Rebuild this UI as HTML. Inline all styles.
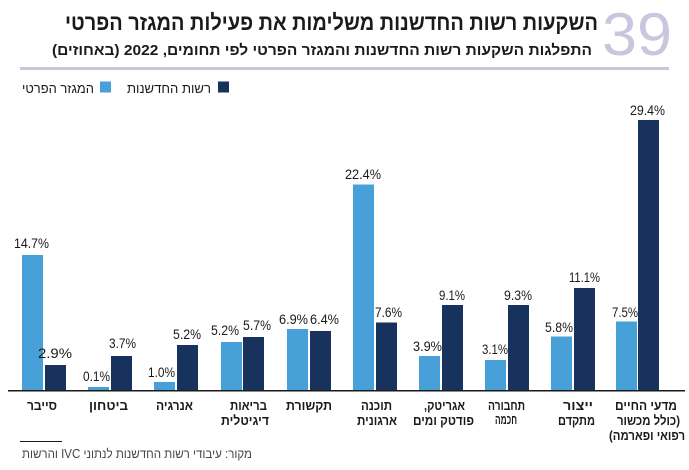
<!DOCTYPE html>
<html>
<head>
<meta charset="utf-8">
<style>
html,body{margin:0;padding:0;background:#fff;}
svg{display:block;}
.he{font-family:"Liberation Sans","DejaVu Sans",sans-serif;direction:rtl;unicode-bidi:embed;}
.v{font-family:"Liberation Sans","DejaVu Sans",sans-serif;font-size:14px;fill:#1a1a1a;}
.cat{font-size:13px;font-weight:bold;fill:#1a1a1a;}
</style>
</head>
<body>
<svg width="689" height="470" viewBox="0 0 689 470" xmlns="http://www.w3.org/2000/svg">
  <!-- Header -->
  <text x="637" y="55" text-anchor="middle" textLength="70" lengthAdjust="spacingAndGlyphs" style="font-family:'Liberation Sans',sans-serif;font-size:60px;fill:#c9c7df;">39</text>
  <text class="he" x="331.5" y="30" text-anchor="middle" textLength="533" lengthAdjust="spacingAndGlyphs" style="font-size:22px;font-weight:bold;fill:#1a1a1a;">השקעות רשות החדשנות משלימות את פעילות המגזר הפרטי</text>
  <text class="he" x="322" y="55" text-anchor="middle" textLength="540" lengthAdjust="spacingAndGlyphs" style="font-size:15px;font-weight:bold;fill:#1a1a1a;">התפלגות השקעות רשות החדשנות והמגזר הפרטי לפי תחומים, 2022 (באחוזים)</text>
  <rect x="20" y="67" width="649" height="3" fill="#c9c7df"/>

  <!-- Legend -->
  <rect x="218" y="81.5" width="11" height="11" fill="#17325c"/>
  <text class="he" x="169" y="93" text-anchor="middle" textLength="84" lengthAdjust="spacingAndGlyphs" style="font-size:13px;fill:#1a1a1a;">רשות החדשנות</text>
  <rect x="100" y="81.5" width="11" height="11" fill="#47a0d8"/>
  <text class="he" x="58" y="93" text-anchor="middle" textLength="72" lengthAdjust="spacingAndGlyphs" style="font-size:13px;fill:#1a1a1a;">המגזר הפרטי</text>

  <!-- Bars light -->
  <g fill="#47a0d8">
    <rect x="22" y="255" width="21" height="135"/>
    <rect x="88" y="387" width="21" height="3"/>
    <rect x="154" y="382" width="21" height="8"/>
    <rect x="221" y="342" width="21" height="48"/>
    <rect x="287" y="329" width="21" height="61"/>
    <rect x="353" y="184.5" width="21" height="205.5"/>
    <rect x="419" y="356" width="21" height="34"/>
    <rect x="485" y="360" width="21" height="30"/>
    <rect x="551" y="336.5" width="21" height="53.5"/>
    <rect x="616" y="321.5" width="21" height="68.5"/>
  </g>
  <!-- Bars dark -->
  <g fill="#17325c">
    <rect x="45" y="365" width="21" height="25"/>
    <rect x="111" y="356" width="21" height="34"/>
    <rect x="177" y="345" width="21" height="45"/>
    <rect x="243" y="337" width="21" height="53"/>
    <rect x="310" y="331" width="21" height="59"/>
    <rect x="376" y="322.5" width="21" height="67.5"/>
    <rect x="442" y="305" width="21" height="85"/>
    <rect x="508" y="305" width="21" height="85"/>
    <rect x="574" y="288" width="21" height="102"/>
    <rect x="638" y="120" width="21" height="270"/>
  </g>

  <!-- Axis line -->
  <rect x="8" y="390" width="677" height="1.5" fill="#1a1a1a"/>

  <!-- Value labels -->
  <g class="v" text-anchor="middle">
    <text x="31.5" y="248" textLength="35" lengthAdjust="spacingAndGlyphs">14.7%</text>
    <text x="55" y="358" textLength="34" lengthAdjust="spacingAndGlyphs">2.9%</text>
    <text x="96.5" y="381" textLength="27" lengthAdjust="spacingAndGlyphs">0.1%</text>
    <text x="122.5" y="348" textLength="27" lengthAdjust="spacingAndGlyphs">3.7%</text>
    <text x="161.5" y="377" textLength="27" lengthAdjust="spacingAndGlyphs">1.0%</text>
    <text x="187" y="339" textLength="28" lengthAdjust="spacingAndGlyphs">5.2%</text>
    <text x="225" y="335" textLength="28" lengthAdjust="spacingAndGlyphs">5.2%</text>
    <text x="257" y="330" textLength="28" lengthAdjust="spacingAndGlyphs">5.7%</text>
    <text x="293.5" y="324" textLength="29" lengthAdjust="spacingAndGlyphs">6.9%</text>
    <text x="324.5" y="324" textLength="29" lengthAdjust="spacingAndGlyphs">6.4%</text>
    <text x="363" y="179" textLength="36" lengthAdjust="spacingAndGlyphs">22.4%</text>
    <text x="388.5" y="317" textLength="27" lengthAdjust="spacingAndGlyphs">7.6%</text>
    <text x="427.5" y="351" textLength="29" lengthAdjust="spacingAndGlyphs">3.9%</text>
    <text x="452" y="300" textLength="26" lengthAdjust="spacingAndGlyphs">9.1%</text>
    <text x="495" y="354" textLength="26" lengthAdjust="spacingAndGlyphs">3.1%</text>
    <text x="518" y="300" textLength="28" lengthAdjust="spacingAndGlyphs">9.3%</text>
    <text x="559" y="332" textLength="28" lengthAdjust="spacingAndGlyphs">5.8%</text>
    <text x="584.5" y="282" textLength="31" lengthAdjust="spacingAndGlyphs">11.1%</text>
    <text x="625" y="317" textLength="26" lengthAdjust="spacingAndGlyphs">7.5%</text>
    <text x="647.5" y="115" textLength="35" lengthAdjust="spacingAndGlyphs">29.4%</text>
  </g>

  <!-- Category labels -->
  <g class="he cat" text-anchor="middle">
    <text x="42" y="410" textLength="30" lengthAdjust="spacingAndGlyphs">סייבר</text>
    <text x="108.5" y="410" textLength="39" lengthAdjust="spacingAndGlyphs">ביטחון</text>
    <text x="174.5" y="410" textLength="37" lengthAdjust="spacingAndGlyphs">אנרגיה</text>
    <text x="248.5" y="410" textLength="37" lengthAdjust="spacingAndGlyphs">בריאות</text>
    <text x="245" y="425" textLength="48" lengthAdjust="spacingAndGlyphs">דיגיטלית</text>
    <text x="309" y="410" textLength="46" lengthAdjust="spacingAndGlyphs">תקשורת</text>
    <text x="376.5" y="410" textLength="31" lengthAdjust="spacingAndGlyphs">תוכנה</text>
    <text x="377" y="425" textLength="40" lengthAdjust="spacingAndGlyphs">ארגונית</text>
    <text x="444.5" y="410" textLength="41" lengthAdjust="spacingAndGlyphs">אגריטק,</text>
    <text x="443.5" y="425" textLength="61" lengthAdjust="spacingAndGlyphs">פודטק ומים</text>
    <text x="506.5" y="410" textLength="37" lengthAdjust="spacingAndGlyphs">תחבורה</text>
    <text x="506" y="424" textLength="22" lengthAdjust="spacingAndGlyphs">חכמה</text>
    <text x="578" y="410" textLength="30" lengthAdjust="spacingAndGlyphs">ייצור</text>
    <text x="576.5" y="425" textLength="37" lengthAdjust="spacingAndGlyphs">מתקדם</text>
    <text x="646" y="410" textLength="62" lengthAdjust="spacingAndGlyphs">מדעי החיים</text>
    <text x="648.5" y="425" textLength="63" lengthAdjust="spacingAndGlyphs">(כולל מכשור</text>
    <text x="647" y="440" textLength="76" lengthAdjust="spacingAndGlyphs">רפואי ופארמה)</text>
  </g>

  <!-- Footer -->
  <rect x="20" y="441" width="42" height="1" fill="#1a1a1a"/>
  <text class="he" x="137" y="458" text-anchor="middle" textLength="230" lengthAdjust="spacingAndGlyphs" style="font-size:12.5px;fill:#444;">מקור: עיבודי רשות החדשנות לנתוני IVC והרשות</text>
</svg>
</body>
</html>
